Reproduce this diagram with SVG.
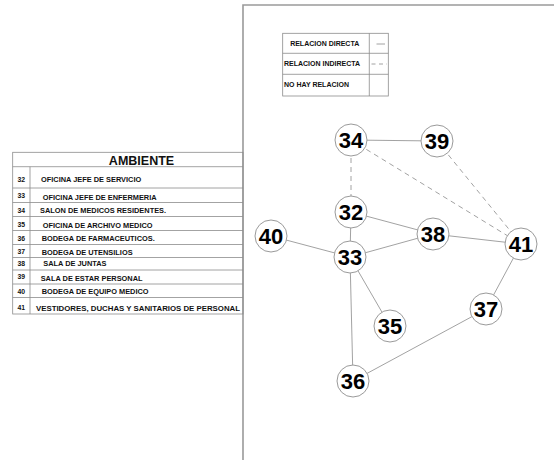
<svg xmlns="http://www.w3.org/2000/svg" width="554" height="460" viewBox="0 0 554 460">
  <style>
    .frame { fill: none; stroke: #9a9a9a; stroke-width: 1.6; }
    .grid { fill: none; stroke: #8c8c8c; stroke-width: 0.8; }
    .t { font-family: "Liberation Sans", Arial, sans-serif; font-weight: bold; fill: #111; }
    .row { font-size: 7.4px; }
    .num { font-size: 6.8px; text-anchor: middle; }
    .leg { font-size: 7px; }
    .edge { stroke: #8a8a8a; stroke-width: 0.8; fill: none; }
    .dash { stroke-dasharray: 5 4; }
    .node circle { fill: #fff; stroke: #9a9a9a; stroke-width: 1; }
    .node text { font-family: "Liberation Sans", Arial, sans-serif; font-weight: bold; font-size: 22px; text-anchor: middle; fill: #000; }
  </style>
  <rect width="554" height="460" fill="#fff"/>

  <!-- sheet border -->
  <path class="frame" d="M243 460 V5 H554"/>

  <!-- legend -->
  <g id="legend">
    <rect class="grid" x="282.7" y="33.3" width="105.6" height="62.7"/>
    <line class="grid" x1="369.3" y1="33.3" x2="369.3" y2="96"/>
    <line class="grid" x1="282.7" y1="53.3" x2="388.3" y2="53.3"/>
    <line class="grid" x1="282.7" y1="74.3" x2="388.3" y2="74.3"/>
    <text class="t leg" x="324.7" y="46" text-anchor="middle">RELACION DIRECTA</text>
    <text class="t leg" x="284" y="66.3">RELACION INDIRECTA</text>
    <text class="t leg" x="284" y="87">NO HAY RELACION</text>
    <line class="edge" x1="376.5" y1="44" x2="385" y2="44"/>
    <line class="edge" x1="371.5" y1="64" x2="387" y2="64" stroke-dasharray="4 3.5"/>
  </g>

  <!-- room table -->
  <g id="ambiente-table">
    <rect class="grid" x="12.7" y="152.3" width="230.3" height="161.7"/>
    <line class="grid" x1="30" y1="166.7" x2="30" y2="314"/>
    <line class="grid" x1="12.7" y1="166.7" x2="243" y2="166.7"/>
    <line class="grid" x1="12.7" y1="188" x2="243" y2="188"/>
    <line class="grid" x1="12.7" y1="202.5" x2="243" y2="202.5"/>
    <line class="grid" x1="12.7" y1="216.5" x2="243" y2="216.5"/>
    <line class="grid" x1="12.7" y1="230.5" x2="243" y2="230.5"/>
    <line class="grid" x1="12.7" y1="244.5" x2="243" y2="244.5"/>
    <line class="grid" x1="12.7" y1="257.5" x2="243" y2="257.5"/>
    <line class="grid" x1="12.7" y1="270" x2="243" y2="270"/>
    <line class="grid" x1="12.7" y1="284" x2="243" y2="284"/>
    <line class="grid" x1="12.7" y1="297.5" x2="243" y2="297.5"/>
    <text class="t" x="141.5" y="164.5" font-size="12.5" text-anchor="middle">AMBIENTE</text>
    <text class="t num" x="21.3" y="181.8">32</text>
    <text class="t row" x="41" y="182">OFICINA JEFE DE SERVICIO</text>
    <text class="t num" x="21.3" y="197.5">33</text>
    <text class="t row" x="42.7" y="200.4">OFICINA JEFE DE ENFERMERIA</text>
    <text class="t num" x="21.3" y="213.2">34</text>
    <text class="t row" x="40" y="213">SALON DE MEDICOS RESIDENTES.</text>
    <text class="t num" x="21.3" y="226.5">35</text>
    <text class="t row" x="42.7" y="227.7">OFICINA DE ARCHIVO MEDICO</text>
    <text class="t num" x="21.3" y="240.5">36</text>
    <text class="t row" x="41.7" y="241">BODEGA DE FARMACEUTICOS.</text>
    <text class="t num" x="21.3" y="254.2">37</text>
    <text class="t row" x="41.7" y="255">BODEGA DE UTENSILIOS</text>
    <text class="t num" x="21.3" y="266.2">38</text>
    <text class="t row" x="43.3" y="266">SALA DE JUNTAS</text>
    <text class="t num" x="21.3" y="279.2">39</text>
    <text class="t row" x="40.7" y="281">SALA DE ESTAR PERSONAL</text>
    <text class="t num" x="21.3" y="293.5">40</text>
    <text class="t row" x="41.7" y="293.7">BODEGA DE EQUIPO MEDICO</text>
    <text class="t num" x="21.3" y="310.2">41</text>
    <text class="t row" x="36" y="311" textLength="204" lengthAdjust="spacingAndGlyphs">VESTIDORES, DUCHAS Y SANITARIOS DE PERSONAL</text>
  </g>

  <!-- relations between rooms -->
  <g id="connectors">
    <line class="edge" x1="351" y1="140" x2="437" y2="141"/>
    <line class="edge dash" x1="351" y1="140" x2="351" y2="212"/>
    <line class="edge dash" x1="351" y1="140" x2="521" y2="244"/>
    <line class="edge dash" x1="437" y1="141" x2="521" y2="244"/>
    <line class="edge" x1="351" y1="212" x2="433" y2="234"/>
    <line class="edge" x1="351" y1="212" x2="350" y2="257"/>
    <line class="edge" x1="350" y1="257" x2="433" y2="234"/>
    <line class="edge" x1="433" y1="234" x2="521" y2="244"/>
    <line class="edge" x1="271" y1="236" x2="350" y2="257"/>
    <line class="edge" x1="350" y1="257" x2="390" y2="326"/>
    <line class="edge" x1="350" y1="257" x2="353" y2="381"/>
    <line class="edge" x1="353" y1="381" x2="486" y2="309"/>
    <line class="edge" x1="486" y1="309" x2="521" y2="244"/>
  </g>

  <g id="n34" class="node"><circle cx="351" cy="140" r="16"/><text x="351" y="148">34</text></g>
  <g id="n39" class="node"><circle cx="437" cy="141" r="16"/><text x="437" y="149">39</text></g>
  <g id="n32" class="node"><circle cx="351" cy="212" r="16"/><text x="351" y="220">32</text></g>
  <g id="n38" class="node"><circle cx="433" cy="234" r="16"/><text x="433" y="242">38</text></g>
  <g id="n40" class="node"><circle cx="271" cy="236" r="16"/><text x="271" y="244">40</text></g>
  <g id="n33" class="node"><circle cx="350" cy="257" r="16"/><text x="350" y="265">33</text></g>
  <g id="n41" class="node"><circle cx="521" cy="244" r="16"/><text x="521" y="252">41</text></g>
  <g id="n37" class="node"><circle cx="486" cy="309" r="16"/><text x="486" y="317">37</text></g>
  <g id="n35" class="node"><circle cx="390" cy="326" r="16"/><text x="390" y="334">35</text></g>
  <g id="n36" class="node"><circle cx="353" cy="381" r="16"/><text x="353" y="389">36</text></g>
</svg>
